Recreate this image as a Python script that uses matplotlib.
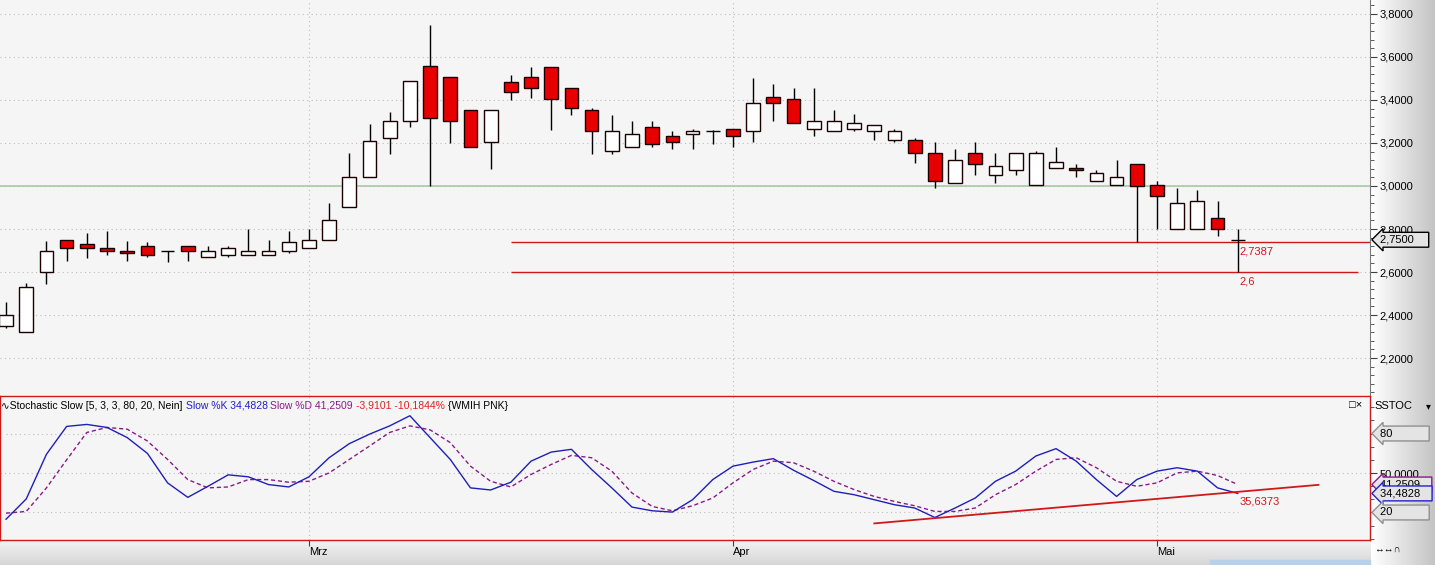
import matplotlib
matplotlib.use("Agg")
import matplotlib.pyplot as plt
import numpy as np
from matplotlib.colors import LinearSegmentedColormap
from matplotlib.ticker import MultipleLocator, FuncFormatter
from matplotlib.patches import Rectangle

# ---- data ----
opens = [2.35, 2.32, 2.60, 2.75, 2.73, 2.71, 2.70, 2.72, 2.70, 2.72,
         2.668, 2.678, 2.678, 2.678, 2.70, 2.71, 2.747, 2.90, 3.04, 3.222,
         3.30, 3.56, 3.506, 3.352, 3.203, 3.482, 3.506, 3.552, 3.454, 3.352,
         3.161, 3.18, 3.273, 3.231, 3.24, 3.254, 3.264, 3.254, 3.413, 3.403,
         3.264, 3.254, 3.264, 3.254, 3.213, 3.213, 3.152, 3.013, 3.152, 3.05,
         3.073, 3.003, 3.082, 3.082, 3.022, 3.006, 3.10, 3.003, 2.80, 2.80,
         2.85, 2.75]
highs = [2.46, 2.55, 2.745, 2.75, 2.78, 2.79, 2.745, 2.74, 2.70, 2.72,
         2.72, 2.72, 2.80, 2.747, 2.79, 2.80, 2.92, 3.152, 3.29, 3.343,
         3.49, 3.75, 3.506, 3.352, 3.352, 3.515, 3.552, 3.552, 3.454, 3.361,
         3.33, 3.30, 3.30, 3.254, 3.264, 3.26, 3.264, 3.50, 3.473, 3.454,
         3.454, 3.352, 3.333, 3.282, 3.264, 3.222, 3.203, 3.171, 3.203, 3.152,
         3.152, 3.161, 3.18, 3.101, 3.073, 3.12, 3.10, 3.022, 2.989, 2.98,
         2.929, 2.80]
lows = [2.34, 2.32, 2.545, 2.65, 2.665, 2.68, 2.65, 2.668, 2.648, 2.65,
        2.668, 2.668, 2.678, 2.678, 2.687, 2.71, 2.747, 2.90, 3.04, 3.15,
        3.273, 3.00, 3.20, 3.18, 3.08, 3.40, 3.41, 3.262, 3.332, 3.15,
        3.15, 3.18, 3.18, 3.17, 3.17, 3.194, 3.18, 3.203, 3.30, 3.292,
        3.231, 3.254, 3.254, 3.213, 3.203, 3.106, 2.99, 3.013, 3.05, 3.013,
        3.05, 3.003, 3.082, 3.04, 3.022, 3.003, 2.7387, 2.80, 2.80, 2.80,
        2.767, 2.60]
closes = [2.40, 2.53, 2.70, 2.71, 2.71, 2.70, 2.687, 2.68, 2.70, 2.70,
          2.70, 2.71, 2.70, 2.70, 2.738, 2.747, 2.84, 3.04, 3.21, 3.30,
          3.49, 3.315, 3.30, 3.18, 3.352, 3.436, 3.454, 3.403, 3.361, 3.254,
          3.254, 3.24, 3.194, 3.203, 3.254, 3.254, 3.231, 3.385, 3.385, 3.292,
          3.30, 3.30, 3.292, 3.282, 3.254, 3.152, 3.022, 3.12, 3.101, 3.092,
          3.152, 3.152, 3.11, 3.073, 3.059, 3.04, 3.00, 2.952, 2.92, 2.929,
          2.80, 2.75]

slow_k = [14.9, 30.3, 64.2, 85.4, 86.9, 84.6, 76.9, 64.9, 42.5, 31.5,
          39.9, 48.6, 47.1, 41.2, 39.4, 47.1, 61.6, 72.3, 79.5, 85.8,
          93.5, 76.9, 60.3, 38.7, 37.1, 43.0, 59.0, 65.9, 68.0, 52.7,
          38.7, 24.1, 21.3, 20.3, 29.7, 45.0, 55.2, 58.3, 60.9, 52.1,
          44.3, 36.1, 33.5, 29.7, 25.9, 23.4, 16.2, 23.4, 31.0, 43.7,
          51.4, 62.9, 68.5, 59.0, 45.0, 32.2, 45.0, 51.4, 54.0, 51.4,
          38.7, 34.4828]
slow_d = [19.5, 20.8, 38.7, 60.0, 80.8, 84.6, 83.3, 74.3, 60.3, 45.0,
          38.7, 39.4, 45.0, 45.0, 43.0, 43.7, 50.1, 60.3, 70.5, 80.8,
          85.8, 82.8, 73.1, 55.2, 43.7, 39.4, 48.9, 56.5, 63.4, 61.6,
          51.4, 34.8, 24.6, 21.3, 25.1, 31.0, 42.5, 52.7, 59.0, 57.8,
          51.4, 43.7, 37.4, 32.2, 28.4, 25.1, 20.8, 20.8, 23.4, 33.5,
          41.2, 51.4, 60.3, 61.6, 54.0, 43.7, 39.9, 42.5, 50.1, 51.4,
          48.1, 41.2509]

month_idx = [15, 36, 57]
month_labels = ["Mrz", "Apr", "Mai"]
support_levels = [2.7387, 2.6]
support_labels = ["2,7387", "2,6"]
support_start = 25
support_end = [68.0, 66.95]
trend_x = [43, 65]
trend_y = [11.7, 41.0]
trend_label = "35,6373"
last_price = 2.75

header_parts = [
    ("\u223fStochastic Slow [5, 3, 3, 80, 20, Nein]", "black"),
    ("Slow %K 34,4828", "#1f1fc8"),
    ("Slow %D 41,2509", "#8a1a8a"),
    ("-3,9101 -10,1844%", "#e02020"),
    ("{WMIH PNK}", "black"),
]

# ---- layout helpers (pixel coords, top-left origin) ----
W, H = 1435, 565
FONT = ["Liberation Sans", "DejaVu Sans"]
plt.rcParams['font.family'] = FONT
plt.rcParams['font.size'] = 8

fig = plt.figure(figsize=(W / 100, H / 100), dpi=100)
fig.patch.set_facecolor('#f5f5f5')


def fx(px):
    return px / W


def fy(py):
    return 1 - py / H


def comma(v, _=None):
    return f"{v:.4f}".replace('.', ',')


# background strips (gradients)
bg = fig.add_axes([0, 0, 1, 1], zorder=-10)
bg.set_xlim(0, W)
bg.set_ylim(H, 0)
bg.axis('off')
grey_h = LinearSegmentedColormap.from_list('gh', ['#ffffff', '#c4c4c4'])
grey_v = LinearSegmentedColormap.from_list('gv', ['#f2f2f2', '#d6d6d6'])
bg.imshow(np.linspace(0, 1, 100)[None, :], cmap=grey_h, aspect='auto',
          extent=[1371, W, H, 0])
bg.imshow(np.linspace(0, 1, 50)[:, None], cmap=grey_v, aspect='auto',
          extent=[0, 1371, H, 541])
bg.add_patch(Rectangle((1210, 560), 160, 5, color='#b8d0ea'))

xlim = (-0.30, 67.55)
x = np.arange(len(opens))
o = np.array(opens)
c = np.array(closes)

# ---- price panel ----
ax = fig.add_axes([0, fy(395), fx(1370), 395 / H])
ax.set_facecolor('#f5f5f5')
ax.set_xlim(*xlim)
ax.set_ylim(2.028, 3.865)

ax.yaxis.set_major_locator(MultipleLocator(0.2))
ax.yaxis.set_minor_locator(MultipleLocator(0.04))
ax.yaxis.set_major_formatter(FuncFormatter(comma))
ax.yaxis.tick_right()
ax.tick_params(axis='y', which='major', length=5, color='#404040', pad=2, labelsize=8)
ax.tick_params(axis='y', which='minor', length=3, color='#404040')
ax.set_xticks(month_idx)
ax.tick_params(axis='x', length=0, labelbottom=False)
ax.grid(True, which='major', ls=(0, (1, 3)), color='#bdbdbd', lw=0.8)
for s in ['top', 'left', 'bottom']:
    ax.spines[s].set_visible(False)
ax.spines['right'].set_color('#7a7a7a')

ax.axhline(3.0, color='#a9c9a9', lw=1.2, zorder=2)
for lvl, lab, xe in zip(support_levels, support_labels, support_end):
    ax.hlines(lvl, support_start, xe, color='#d01818', lw=1, zorder=2)
    ax.annotate(lab, (61.0, lvl), xytext=(1, -3), textcoords='offset points',
                ha='left', va='top', color='#d01818', fontsize=8)

# candles
ax.vlines(x, lows, highs, color='black', lw=1, zorder=3)
doji = np.abs(c - o) < 0.002
body = ~doji
fill = np.where(c < o, '#e80000', 'white')
ax.bar(x[body], np.abs(c - o)[body], bottom=np.minimum(o, c)[body], width=0.68,
       color=fill[body], edgecolor='#1a0000', lw=1, zorder=4)
ax.hlines(o[doji], x[doji] - 0.34, x[doji] + 0.34, color='black', lw=1, zorder=4)


def tag(axis, y, s, ec, fc='#e4e4e4', tc='black'):
    axis.text(1 + 10 / 1370, y, s, transform=axis.get_yaxis_transform(),
              ha='left', va='center', color=tc, fontsize=8, zorder=10,
              clip_on=False,
              bbox=dict(boxstyle='larrow,pad=0.22', fc=fc, ec=ec, lw=1))


tag(ax, last_price, comma(last_price) + "    ", 'black')

# ---- stochastic panel ----
sx = fig.add_axes([0, fy(540), fx(1370), (540 - 396) / H])
sx.set_facecolor('#f5f5f5')
sx.set_xlim(*xlim)
sx.set_ylim(-0.9, 108.5)
for s in sx.spines.values():
    s.set_color('#cc1a1a')
    s.set_linewidth(1)

sx.set_xticks(month_idx)
sx.set_xticklabels(month_labels)
for lbl in sx.get_xticklabels():
    lbl.set_ha('left')
sx.tick_params(axis='x', length=4, color='#404040', pad=1, labelsize=8)
sx.xaxis.grid(True, ls=(0, (1, 3)), color='#bdbdbd', lw=0.8)

sx.yaxis.tick_right()
sx.set_yticks([50])
sx.yaxis.set_major_formatter(FuncFormatter(comma))
sx.yaxis.set_minor_locator(MultipleLocator(10))
sx.tick_params(axis='y', which='major', length=5, color='#404040', pad=2, labelsize=8)
sx.tick_params(axis='y', which='minor', length=3, color='#404040')

sx.axhline(50, ls=(0, (1, 3)), color='#bdbdbd', lw=0.8)
sx.hlines([80, 20], 0, len(x) - 1, ls=(0, (1, 3)), color='#bdbdbd', lw=0.8)

sx.plot(x, slow_d, color='#8a1a8a', lw=1, ls=(0, (3, 2)))
sx.plot(x, slow_k, color='#1f1fb8', lw=1)
sx.plot(trend_x, trend_y, color='#d01818', lw=1.3)
sx.annotate(trend_label, (61.0, slow_k[-1] + 1), xytext=(1, -3), textcoords='offset points',
            ha='left', va='top', color='#d01818', fontsize=8)

tag(sx, 80, "80" + " " * 11, '#909090')
tag(sx, 41.2509, comma(slow_d[-1]) + "   ", '#8a1a8a')
tag(sx, 34.4828, comma(slow_k[-1]) + "   ", '#2020d0')
tag(sx, 20, "20" + " " * 11, '#909090')

# header line of the indicator pane
r = fig.canvas.get_renderer()
xp = 1
for s, col in header_parts:
    t = fig.text(fx(xp), fy(406), s, color=col, fontsize=7.5, ha='left', va='center')
    xp += t.get_window_extent(renderer=r).width + 3

fig.text(fx(1349), fy(405), "\u25a1\u00d7", fontsize=8, ha='left', va='center')
fig.text(fx(1374), fy(406), "SSTOC", fontsize=8, ha='left', va='center')
fig.text(fx(1426), fy(406), "\u25be", fontsize=7, ha='left', va='center')
fig.text(fx(1374), fy(549), "\u2194\u2194\u2229", fontsize=7, ha='left', va='center')

fig.savefig("out.png", dpi=100, facecolor=fig.get_facecolor())
